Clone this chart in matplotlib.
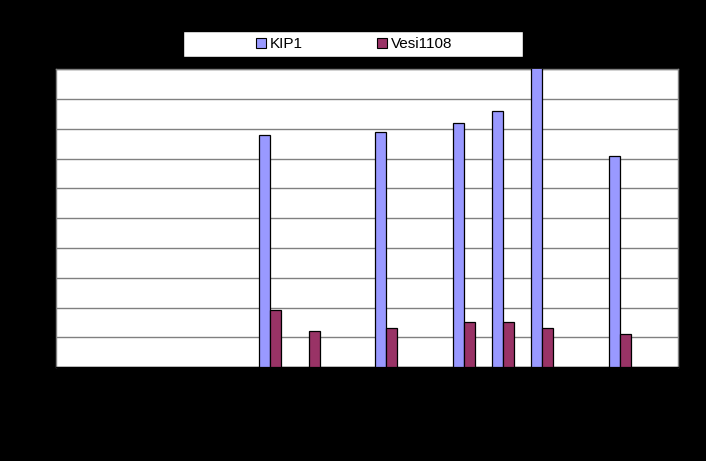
import matplotlib
matplotlib.use("Agg")
import matplotlib.pyplot as plt
import numpy as np
from matplotlib.patches import Rectangle, Patch

plt.rcParams['font.family'] = ['Liberation Sans', 'DejaVu Sans']

categories = list(range(1, 17))
kip1 = [np.nan, np.nan, np.nan, np.nan, np.nan, 7.8, np.nan, np.nan, 7.9, np.nan,
        8.2, 8.6, 10.8, np.nan, 7.1, np.nan]
vesi1108 = [np.nan, np.nan, np.nan, np.nan, np.nan, 1.9, 1.2, np.nan, 1.3, np.nan,
            1.5, 1.5, 1.3, np.nan, 1.1, np.nan]
series_names = ["KIP1", "Vesi1108"]

blue = "#9999FF"
maroon = "#993366"

fig = plt.figure(figsize=(7.06, 4.61), dpi=100, facecolor="black")
ax = fig.add_axes([56/706, (461-367)/461, (678-56)/706, (367-69.5)/461])
ax.set_facecolor("white")

x = np.arange(len(categories))
w = 0.283
ax.bar(x - w/2, kip1, width=w, color=blue, edgecolor="black", linewidth=0.9, zorder=3)
ax.bar(x + w/2, vesi1108, width=w, color=maroon, edgecolor="black", linewidth=0.9, zorder=3)

ax.set_xlim(-0.5, len(categories) - 0.5)
ax.set_ylim(0, 10)
ax.set_yticks(np.arange(0, 11, 1))
ax.yaxis.grid(True, color="#808080", linewidth=1.0, zorder=0)
ax.set_axisbelow(True)
ax.tick_params(axis="both", length=0, labelleft=False, labelbottom=False)
ax.set_xticks(x)
for s in ax.spines.values():
    s.set_color("#808080")
    s.set_linewidth(1.0)
ax.spines["bottom"].set_color("black")

# legend frame
fig.patches.append(Rectangle((183/706, (461-57)/461), (523-183)/706, 26/461,
                             transform=fig.transFigure, facecolor="white",
                             edgecolor="black", linewidth=1.0, zorder=1))
handles = [Patch(facecolor=blue, edgecolor="black", linewidth=0.8),
           Patch(facecolor=maroon, edgecolor="black", linewidth=0.8)]
leg = fig.legend(handles, series_names, loc="center",
                 bbox_to_anchor=(354/706, (461-44)/461), ncol=2, frameon=False,
                 fontsize=11, handlelength=0.65, handleheight=0.65,
                 handletextpad=0.25, columnspacing=4.9)
leg.set_zorder(5)

fig.savefig("out.png", dpi=100, facecolor="black")
